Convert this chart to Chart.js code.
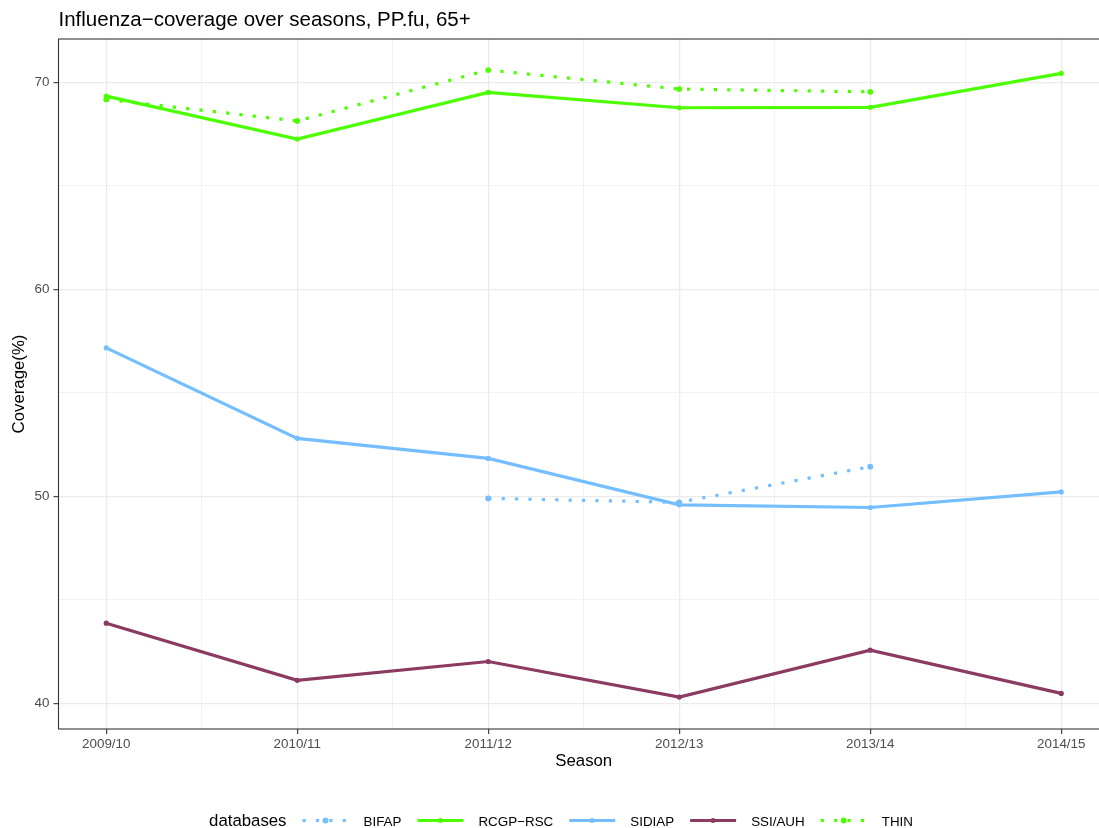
<!DOCTYPE html>
<html>
<head>
<meta charset="utf-8">
<title>Influenza coverage over seasons</title>
<script src="https://cdn.jsdelivr.net/npm/chart.js@4/dist/chart.umd.min.js"></script>
<style>
  html, body { margin: 0; padding: 0; background: #fff; overflow: hidden; }
  #wrap { width: 1099px; height: 828px; overflow: hidden; }
  canvas { display: block; }
</style>
</head>
<body>
<div id="wrap"><canvas id="chart" width="1122" height="828"></canvas></div>
<script>
// values (coverage %, per season)
const seasons = ['2009/10', '2010/11', '2011/12', '2012/13', '2013/14', '2014/15'];

const bifap   = [null, null, 49.90, 49.71, 51.43, null];
const rcgpRsc = [69.33, 67.26, 69.51, 68.77, 68.79, 70.43];
const sidiap  = [57.17, 52.80, 51.83, 49.59, 49.46, 50.21];
const ssiAuh  = [43.87, 41.11, 42.02, 40.30, 42.57, 40.48];
const thin    = [69.17, 68.13, 70.59, 69.67, 69.54, null];

const yTickLabels = [40, 50, 60, 70];
const chartTitle = 'Influenza−coverage over seasons, PP.fu, 65+';
const legendTitle = 'databases';

const FONT = '"Liberation Sans", Arial, Helvetica, sans-serif';
const GREEN = '#4CFF00';
const BLUE = '#74BEFF';
const PURPLE = '#8B3A62';
const LINE_W = 3.2;
const DOTS = [3.2, 10.2];

const series = [
  {label: 'BIFAP',     values: bifap,   color: BLUE,   dotted: true},
  {label: 'RCGP−RSC',  values: rcgpRsc, color: GREEN,  dotted: false},
  {label: 'SIDIAP',    values: sidiap,  color: BLUE,   dotted: false},
  {label: 'SSI/AUH',   values: ssiAuh,  color: PURPLE, dotted: false},
  {label: 'THIN',      values: thin,    color: GREEN,  dotted: true}
];

// major grid at the labels, minor grid half way between them
const withMinor = (major) => {
  const out = [];
  major.forEach((v, i) => {
    out.push(v);
    if (i < major.length - 1) out.push((v + major[i + 1]) / 2);
  });
  return out;
};
const xMajor = seasons.map((s, i) => i);
const xGrid = withMinor(xMajor);
const yGrid = withMinor(yTickLabels);

const isMajorX = (v) => Number.isInteger(v);
const isMajorY = (v) => yTickLabels.includes(v);

function gridFor(isMajor) {
  return {
    color: ctx => (ctx.tick && isMajor(ctx.tick.value)) ? '#EBEBEB' : '#EFEFEF',
    lineWidth: ctx => (ctx.tick && isMajor(ctx.tick.value)) ? 1.3 : 0.8,
    tickLength: 5,
    tickWidth: 1.1,
    tickColor: ctx => (ctx.tick && isMajor(ctx.tick.value)) ? '#333333' : 'rgba(0,0,0,0)'
  };
}

// panel border drawn over the lines, like theme_bw
const panelFrame = {
  id: 'panelFrame',
  afterDatasetsDraw(chart) {
    const {ctx, chartArea: a} = chart;
    ctx.save();
    ctx.strokeStyle = '#333333';
    ctx.lineWidth = 1.1;
    ctx.strokeRect(a.left, a.top, a.right - a.left, a.bottom - a.top);
    ctx.restore();
  }
};

// plot title and the bottom legend with line keys
const titleAndLegend = {
  id: 'titleAndLegend',
  afterDraw(chart) {
    const {ctx, chartArea, width} = chart;
    ctx.save();
    ctx.fillStyle = '#000000';
    ctx.textBaseline = 'alphabetic';
    ctx.textAlign = 'left';
    ctx.font = '20.5px ' + FONT;
    ctx.fillText(chartTitle, chartArea.left, 26);

    const keyW = 46, keyGap = 15, itemGap = 16, titleGap = 16;
    ctx.font = '16.8px ' + FONT;
    const titleW = ctx.measureText(legendTitle).width;
    ctx.font = '13.4px ' + FONT;
    const labelW = series.map(s => ctx.measureText(s.label).width);
    const total = titleW + titleGap + labelW.reduce((a, b) => a + b, 0) +
      series.length * (keyW + keyGap) + (series.length - 1) * itemGap;
    let x = width / 2 - total / 2;
    const y = 820.5;

    ctx.font = '16.8px ' + FONT;
    ctx.fillText(legendTitle, x, 826);
    x += titleW + titleGap;

    series.forEach((s, i) => {
      ctx.strokeStyle = s.color;
      ctx.fillStyle = s.color;
      ctx.lineWidth = LINE_W;
      ctx.lineCap = 'butt';
      ctx.setLineDash(s.dotted ? DOTS : []);
      ctx.beginPath();
      ctx.moveTo(x, y);
      ctx.lineTo(x + keyW, y);
      ctx.stroke();
      ctx.setLineDash([]);
      ctx.beginPath();
      ctx.arc(x + keyW / 2, y, s.dotted ? 2.9 : 2.5, 0, Math.PI * 2);
      ctx.fill();
      x += keyW + keyGap;
      ctx.fillStyle = '#000000';
      ctx.font = '13.4px ' + FONT;
      ctx.fillText(s.label, x, 825.5);
      x += labelW[i] + itemGap;
    });
    ctx.restore();
  }
};

Chart.defaults.font.family = FONT;

const chart = new Chart(document.getElementById('chart'), {
  type: 'line',
  data: {
    datasets: series.map((s, i) => ({
      label: s.label,
      data: s.values.map((v, j) => ({x: j, y: v})),
      borderColor: s.color,
      backgroundColor: s.color,
      pointBackgroundColor: s.color,
      pointBorderWidth: 0,
      pointRadius: s.dotted ? 2.9 : 2.6,
      borderWidth: LINE_W,
      borderDash: s.dotted ? DOTS : [],
      borderCapStyle: 'butt',
      tension: 0,
      fill: false,
      order: series.length - i
    }))
  },
  options: {
    responsive: false,
    animation: false,
    events: [],
    layout: {padding: {top: 39, right: 13, bottom: 40, left: 0}},
    plugins: {
      legend: {display: false},
      title: {display: false},
      tooltip: {enabled: false}
    },
    scales: {
      x: {
        type: 'linear',
        min: -0.25,
        max: 5.25,
        afterBuildTicks: s => { s.ticks = xGrid.map(v => ({value: v})); },
        afterFit: s => { s.height = 59; },
        grid: gridFor(isMajorX),
        border: {display: false},
        ticks: {
          padding: 2,
          autoSkip: false,
          maxRotation: 0,
          color: '#4D4D4D',
          font: {size: 13.4},
          callback: v => isMajorX(v) ? seasons[v] : ''
        },
        title: {
          display: true,
          text: 'Season',
          color: '#000000',
          font: {size: 16.8},
          padding: {top: 0, bottom: 17}
        }
      },
      y: {
        type: 'linear',
        min: 38.76,
        max: 72.09,
        afterBuildTicks: s => { s.ticks = yGrid.map(v => ({value: v})); },
        afterFit: s => { s.width = 58.5; },
        grid: gridFor(isMajorY),
        border: {display: false},
        ticks: {
          padding: 4,
          color: '#4D4D4D',
          font: {size: 13.4},
          callback: v => isMajorY(v) ? String(v) : ''
        },
        title: {
          display: true,
          text: 'Coverage(%)',
          color: '#000000',
          font: {size: 16.8},
          padding: {top: 9, bottom: 0}
        }
      }
    }
  },
  plugins: [panelFrame, titleAndLegend]
});
</script>
</body>
</html>
